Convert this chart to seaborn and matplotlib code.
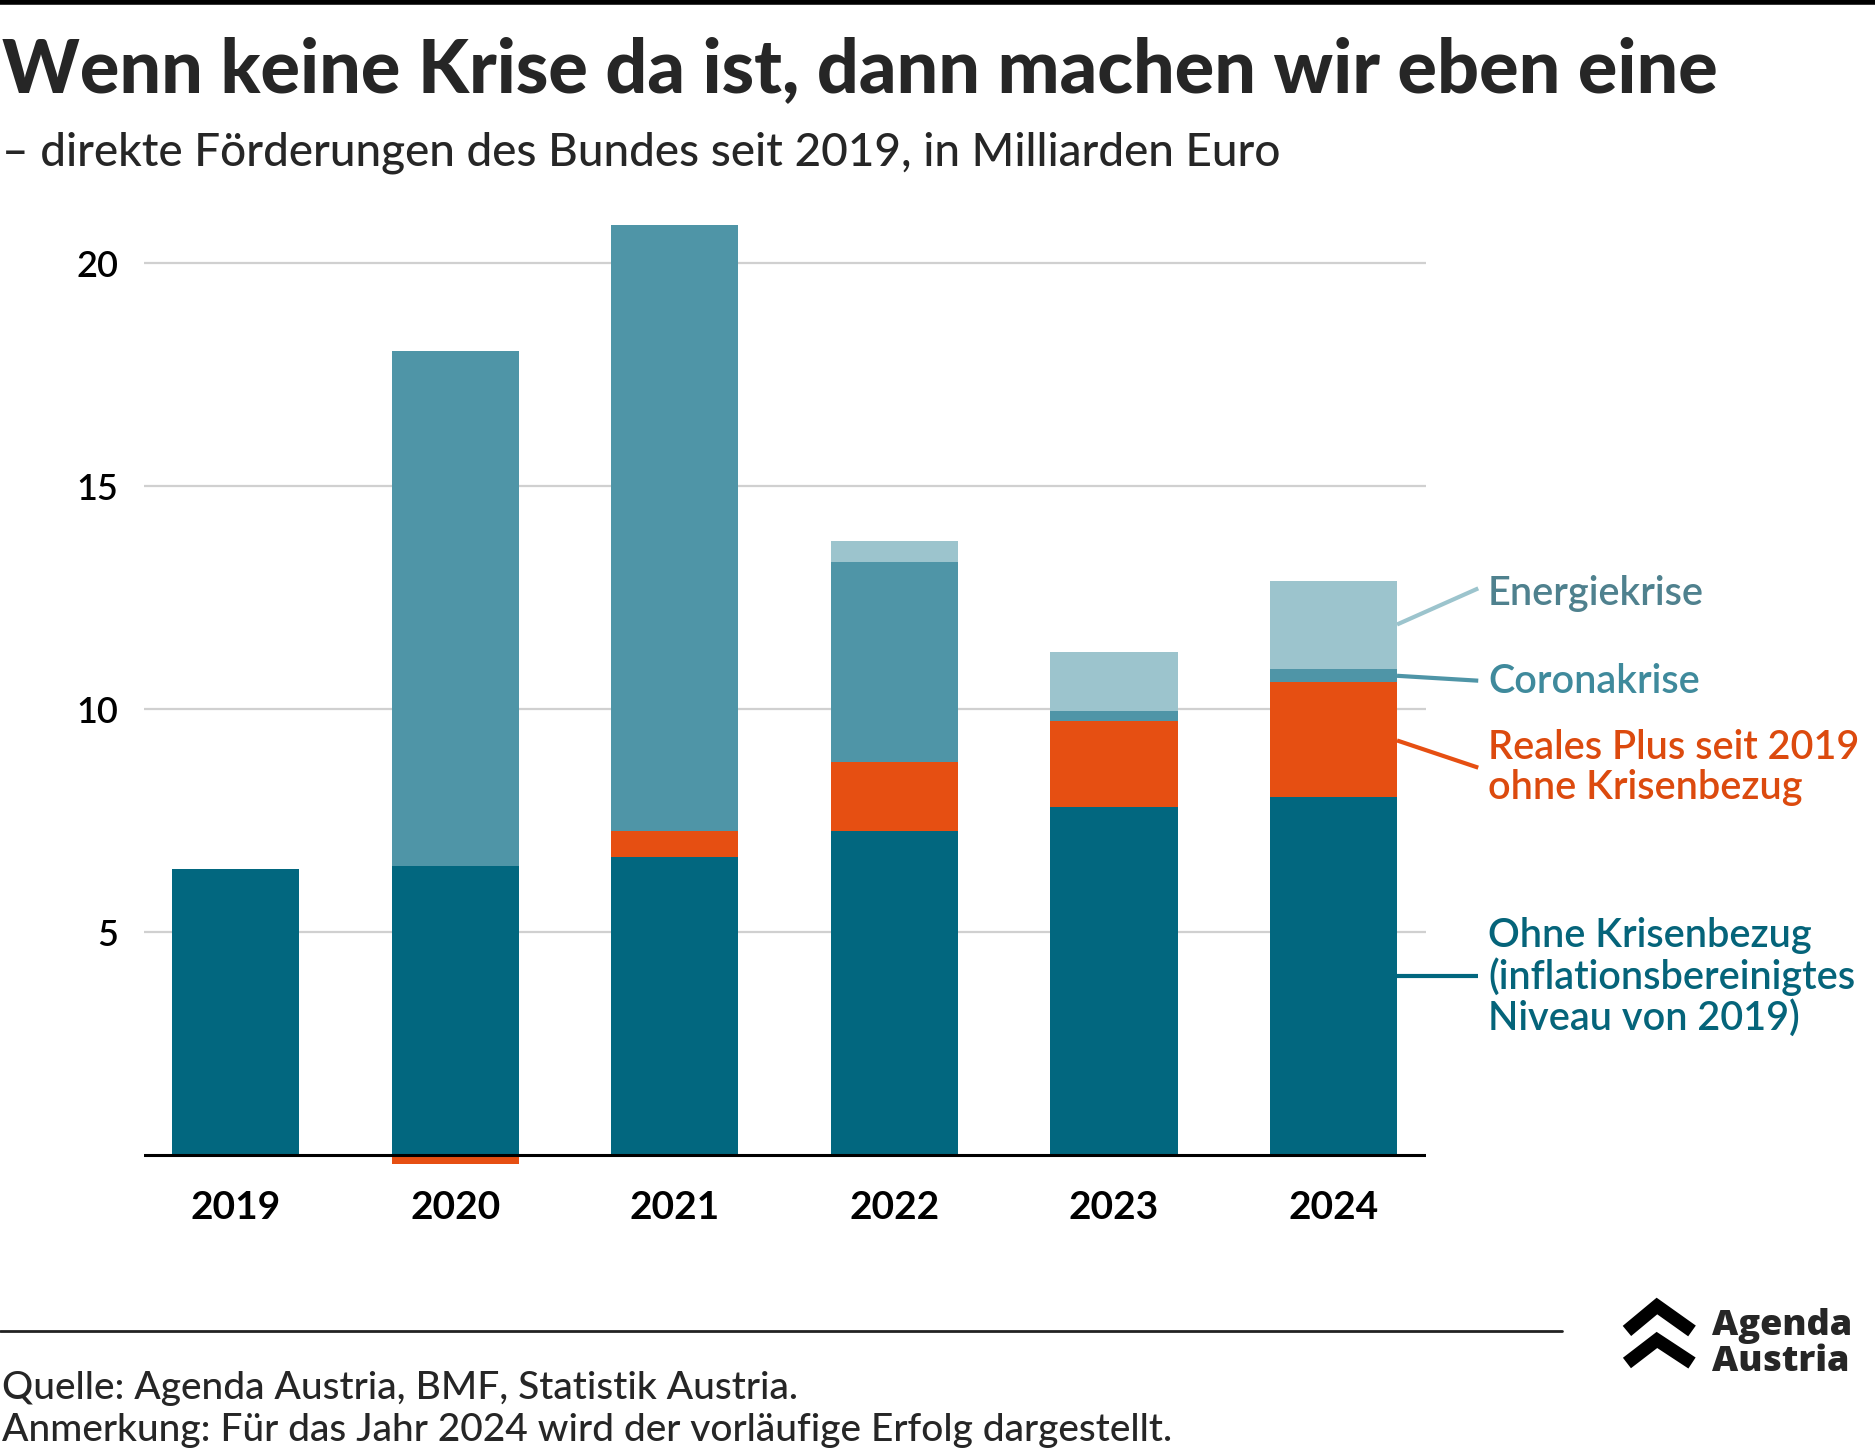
import numpy as np
import pandas as pd
import matplotlib as mpl
import matplotlib.pyplot as plt
import seaborn as sns
from matplotlib.lines import Line2D

# 데이터 (Milliarden Euro)
YEARS = ['2019', '2020', '2021', '2022', '2023', '2024']
OHNE_KRISE = [6.41, 6.49, 6.68, 7.27, 7.80, 8.04]
REALES_PLUS = [0.0, -0.19, 0.59, 1.55, 1.93, 2.58]
CORONA = [0.0, 11.55, 13.59, 4.48, 0.24, 0.29]
ENERGIE = [0.0, 0.0, 0.0, 0.48, 1.32, 1.96]

C_BASE = '#02677f'
C_PLUS = '#e64f12'
C_CORONA = '#4f95a7'
C_ENERGIE = '#9cc4cd'

TITLE = 'Wenn keine Krise da ist, dann machen wir eben eine'
SUBTITLE = '– direkte Förderungen des Bundes seit 2019, in Milliarden Euro'
SOURCE = 'Quelle: Agenda Austria, BMF, Statistik Austria.'
NOTE = 'Anmerkung: Für das Jahr 2024 wird der vorläufige Erfolg dargestellt.'

sns.set_theme(style='white')
plt.rcParams['font.family'] = ['Lato', 'DejaVu Sans']

df = pd.DataFrame({'Jahr': YEARS, 'base': OHNE_KRISE, 'plus': REALES_PLUS,
                   'corona': CORONA, 'energie': ENERGIE})
plus_pos = df['plus'].clip(lower=0)
b_plus = np.where(df['plus'] >= 0, df['base'], 0)
b_corona = df['base'] + plus_pos
b_energie = b_corona + df['corona']

fig = plt.figure(figsize=(18.75, 14.5), dpi=100)
ax = fig.add_axes([0.0766, 0.1879, 0.6837, 0.6767])

W = 0.58
sns.barplot(data=df, x='Jahr', y='base', color=C_BASE, width=W, linewidth=0, saturation=1, ax=ax)
sns.barplot(data=df, x='Jahr', y='plus', bottom=b_plus, color=C_PLUS, width=W, linewidth=0, saturation=1, ax=ax)
sns.barplot(data=df, x='Jahr', y='corona', bottom=b_corona, color=C_CORONA, width=W, linewidth=0, saturation=1, ax=ax)
sns.barplot(data=df, x='Jahr', y='energie', bottom=b_energie, color=C_ENERGIE, width=W, linewidth=0, saturation=1, ax=ax)

ax.set_xlim(-0.42, 5.42)
ax.set_ylim(-0.5, 21.5)
ax.set_yticks([5, 10, 15, 20])
ax.yaxis.grid(True, color='#d0d0d0', linewidth=1.6)
ax.set_axisbelow(True)
ax.axhline(0, color='black', linewidth=2.2, zorder=5)
for s in ax.spines.values():
    s.set_visible(False)
ax.set_xlabel('')
ax.set_ylabel('')
ax.tick_params(axis='y', length=0, pad=18, labelsize=26, labelcolor='black')
ax.tick_params(axis='x', length=0, pad=9, labelsize=28, labelcolor='black')
for t in ax.get_yticklabels():
    t.set_fontweight('semibold')
for t in ax.get_xticklabels():
    t.set_fontweight('bold')

# Beschriftungen rechts mit Verbindungslinien
x0, x1, xt = 5.29, 5.66, 5.705
labels = [
    ('Energiekrise', '#4f818e', 11.9, 12.71, 12.6),
    ('Coronakrise', '#3f8a9c', 10.75, 10.64, 10.62),
    ('Reales Plus seit 2019\nohne Krisenbezug', '#dc4a0e', 9.30, 8.69, 8.69),
    ('Ohne Krisenbezug\n(inflationsbereinigtes\nNiveau von 2019)', '#05647a', 4.02, 4.02, 4.0),
]
line_colors = [C_ENERGIE, C_CORONA, C_PLUS, C_BASE]
for (txt, col, ya, yb, yt), lc in zip(labels, line_colors):
    ax.plot([x0, x1], [ya, yb], color=lc, linewidth=3, clip_on=False, solid_capstyle='butt')
    ax.text(xt, yt, txt, color=col, fontsize=28.5, fontweight='semibold', va='center', ha='left',
            linespacing=1.1, clip_on=False)

# Titel
fig.add_artist(Line2D([0, 1], [0.9983, 0.9983], color='black', linewidth=4))
fig.text(0.001, 0.9366, TITLE, fontsize=53, fontweight='black', va='baseline', ha='left')
fig.text(0.001, 0.886, SUBTITLE, fontsize=33, fontweight='medium', va='baseline', ha='left')

# Fußzeile
fig.add_artist(Line2D([0, 0.833], [0.082, 0.082], color='#222222', linewidth=2))
fig.text(0.001, 0.0352, SOURCE, fontsize=28, fontweight='medium', va='baseline', ha='left')
fig.text(0.001, 0.0065, NOTE, fontsize=28, fontweight='medium', va='baseline', ha='left')

# Logo
for ya, yb in [(0.0993, 0.0821), (0.0759, 0.0600)]:
    fig.add_artist(Line2D([0.8677, 0.8837, 0.9024], [yb, ya, yb],
                          color='black', linewidth=9.5, solid_joinstyle='miter', solid_capstyle='butt'))
fig.text(0.9130, 0.0790, 'Agenda', fontsize=26, fontweight='heavy', family=['Open Sans', 'DejaVu Sans'],
         va='baseline', ha='left')
fig.text(0.9130, 0.0545, 'Austria', fontsize=26, fontweight='heavy', family=['Open Sans', 'DejaVu Sans'],
         va='baseline', ha='left')

fig.savefig('out.png', dpi=100, facecolor='white')
